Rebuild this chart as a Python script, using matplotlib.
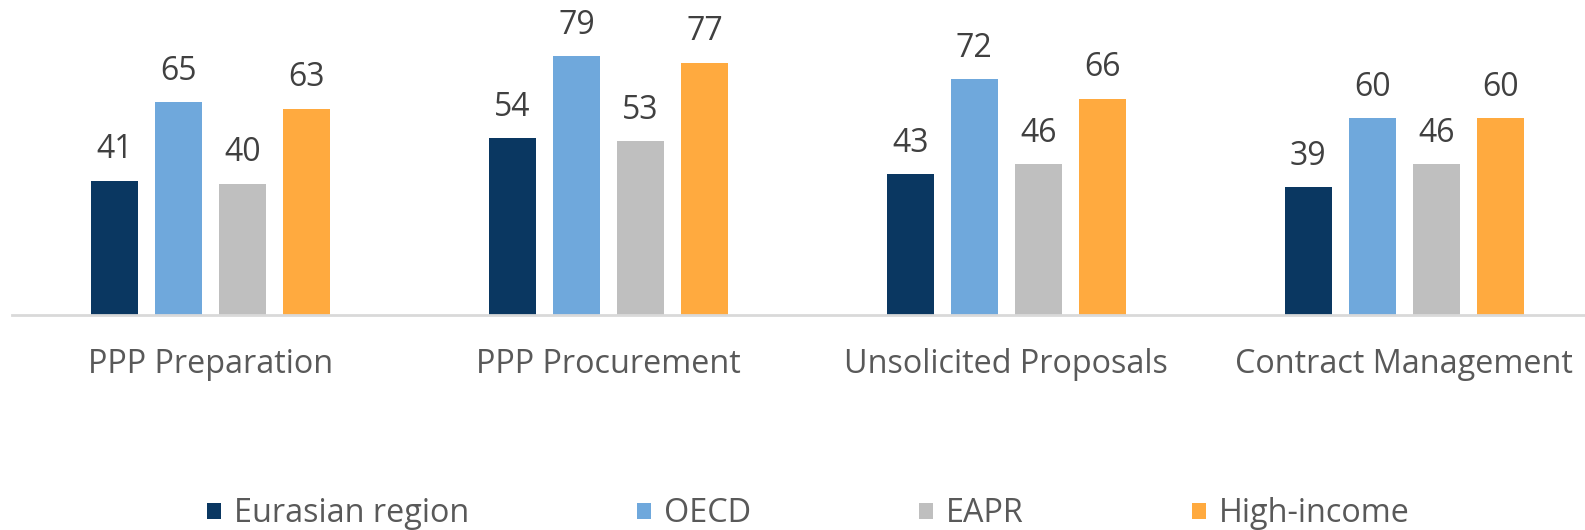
import matplotlib.pyplot as plt
import numpy as np

plt.rcParams['font.family'] = ['Open Sans', 'DejaVu Sans']

categories = ['PPP Preparation', 'PPP Procurement', 'Unsolicited Proposals', 'Contract Management']
series_names = ['Eurasian region', 'OECD', 'EAPR', 'High-income']
eurasian = [41, 54, 43, 39]
oecd = [65, 79, 72, 60]
eapr = [40, 53, 46, 46]
high_income = [63, 77, 66, 60]
colors = ['#0A3761', '#6FA8DC', '#BFBFBF', '#FFAA3F']

fig = plt.figure(figsize=(15.85, 5.30), dpi=100)
# axes runs a little past the right edge, like the cropped original
ax = fig.add_axes([12 / 1585, 215 / 530, 1591 / 1585, 262 / 530])

x = np.arange(len(categories))
width = 0.118
pitch = 0.161
all_series = [eurasian, oecd, eapr, high_income]
for i, (name, vals, col) in enumerate(zip(series_names, all_series, colors)):
    pos = x + (i - 1.5) * pitch
    bars = ax.bar(pos, vals, width, color=col, label=name, zorder=2)
    for b, v in zip(bars, vals):
        ax.text(b.get_x() + b.get_width() / 2, v + 9.5, str(v), ha='center', va='center',
                fontsize=23, color='#404040', clip_on=False)

ax.set_xlim(-0.5, 3.5)
ax.set_ylim(0, 80)
ax.set_yticks([])
ax.set_xticks(x)
ax.set_xticklabels(categories, fontsize=23.3, color='#595959')
ax.tick_params(axis='x', length=0, pad=24)
for s in ['top', 'right', 'left']:
    ax.spines[s].set_visible(False)
ax.spines['bottom'].set_color('#D9D9D9')
ax.spines['bottom'].set_linewidth(2)

fig.legend(loc='center', bbox_to_anchor=(0.51, 16 / 530), ncol=4, frameon=False,
           fontsize=23.3, labelcolor='#595959', handlelength=0.42, handleheight=0.42,
           handletextpad=0.4, columnspacing=5.2)

fig.savefig('out.png', dpi=100)
